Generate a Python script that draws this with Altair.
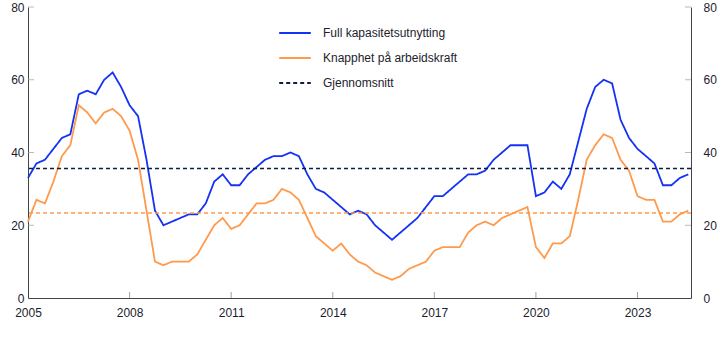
import altair as alt
import pandas as pd

start_year = 2005
full = [33, 37, 38, 41,
        44, 45, 56, 57,
        56, 60, 62, 58,
        53, 50, 38, 24,
        20, 21, 22, 23,
        23, 26, 32, 34,
        31, 31, 34, 36,
        38, 39, 39, 40,
        39, 34, 30, 29,
        27, 25, 23, 24,
        23, 20, 18, 16,
        18, 20, 22, 25,
        28, 28, 30, 32,
        34, 34, 35, 38,
        40, 42, 42, 42,
        28, 29, 32, 30,
        34, 43, 52, 58,
        60, 59, 49, 44,
        41, 39, 37, 31,
        31, 33, 34]
knapphet = [21, 27, 26, 32,
            39, 42, 53, 51,
            48, 51, 52, 50,
            46, 38, 24, 10,
            9, 10, 10, 10,
            12, 16, 20, 22,
            19, 20, 23, 26,
            26, 27, 30, 29,
            27, 22, 17, 15,
            13, 15, 12, 10,
            9, 7, 6, 5,
            6, 8, 9, 10,
            13, 14, 14, 14,
            18, 20, 21, 20,
            22, 23, 24, 25,
            14, 11, 15, 15,
            17, 27, 38, 42,
            45, 44, 38, 35,
            28, 27, 27, 21,
            21, 23, 24]
mean_full = 35.6
mean_knapphet = 23.4
names = ["Full kapasitetsutnytting", "Knapphet på arbeidskraft", "Gjennomsnitt"]
x_tick_years = [2005, 2008, 2011, 2014, 2017, 2020, 2023]
y_ticks = [0, 20, 40, 60, 80]

BLUE = "#1432F5"
ORANGE = "#FF9A4D"
NAVY = "#0B1F45"
TEXT = "#1C1C2E"
FONT = "Liberation Sans"

t = [start_year + i / 4 for i in range(len(full))]
df = pd.concat([
    pd.DataFrame({"t": t, "v": full, "serie": names[0]}),
    pd.DataFrame({"t": t, "v": knapphet, "serie": names[1]}),
])
df_mean = pd.DataFrame({"v": [mean_full], "serie": [names[2]]})
df_mean2 = pd.DataFrame({"v": [mean_knapphet]})
df_yt = pd.DataFrame({"v": y_ticks[1:]})
df_xt = pd.DataFrame({"t": x_tick_years[1:]})

xs = alt.Scale(domain=[2005, 2024.58], nice=False, zero=False)
ys = alt.Scale(domain=[0, 80], nice=False, zero=True)

legend = alt.Legend(title=None, orient="none", legendX=250, legendY=9,
                    symbolType="M-1,0H1", symbolSize=1000, symbolStrokeWidth=1.8,
                    labelFont=FONT, labelFontSize=12, labelColor=TEXT,
                    labelOffset=11, rowPadding=2, labelLimit=300)
color = alt.Color("serie:N", scale=alt.Scale(domain=names, range=[BLUE, ORANGE, NAVY]),
                  legend=legend)
dash = alt.StrokeDash("serie:N", scale=alt.Scale(domain=names, range=[[1, 0], [1, 0], [4, 3]]),
                      legend=legend)

x_axis = alt.Axis(values=x_tick_years, format="d", tickSize=0, labelPadding=9,
                  labelFlush=False,
                  domainColor="#444", labelFont=FONT, labelFontSize=12, labelColor=TEXT,
                  grid=False, title=None)
y_left = alt.Axis(values=y_ticks, orient="left", tickSize=0, labelPadding=4,
                  domainColor="#444", labelFont=FONT, labelFontSize=12, labelColor=TEXT,
                  grid=False, title=None)
y_right = alt.Axis(values=y_ticks, orient="right", tickSize=0, labelPadding=12,
                   domainColor="#444", labelFont=FONT, labelFontSize=12, labelColor=TEXT,
                   grid=False, title=None)

lines = alt.Chart(df).mark_line(strokeWidth=1.8).encode(
    x=alt.X("t:Q", scale=xs, axis=x_axis),
    y=alt.Y("v:Q", scale=ys, axis=y_left),
    color=color, strokeDash=dash,
)
mean_navy = alt.Chart(df_mean).mark_rule(strokeWidth=1.6).encode(
    y=alt.Y("v:Q", scale=ys, axis=y_right),
    color=color, strokeDash=dash,
)
mean_orange = alt.Chart(df_mean2).mark_rule(color=ORANGE, strokeDash=[4, 3], strokeWidth=1.5).encode(
    y=alt.Y("v:Q", scale=ys, axis=None),
)
ytick_l = alt.Chart(df_yt).mark_tick(orient="horizontal", size=6, thickness=1, color="#9a9a9a").encode(
    y=alt.Y("v:Q", scale=ys, axis=None), x=alt.value(3))
ytick_r = alt.Chart(df_yt).mark_tick(orient="horizontal", size=6, thickness=1, color="#9a9a9a").encode(
    y=alt.Y("v:Q", scale=ys, axis=None), x=alt.value(660))
xtick = alt.Chart(df_xt).mark_tick(orient="vertical", size=6, thickness=1, color="#777").encode(
    x=alt.X("t:Q", scale=xs, axis=x_axis), y=alt.value(288))

chart = alt.layer(lines, mean_navy, mean_orange, ytick_l, ytick_r, xtick).resolve_scale(
    y="shared", x="shared"
).resolve_axis(y="independent").properties(
    width=663, height=291,
    padding={"left": 28, "top": 7, "right": 31, "bottom": 42},
    autosize=alt.AutoSizeParams(type="none"),
    background="white",
).configure_view(stroke=None)

chart.save("out.html", embed_options={"renderer": "svg", "actions": False})
